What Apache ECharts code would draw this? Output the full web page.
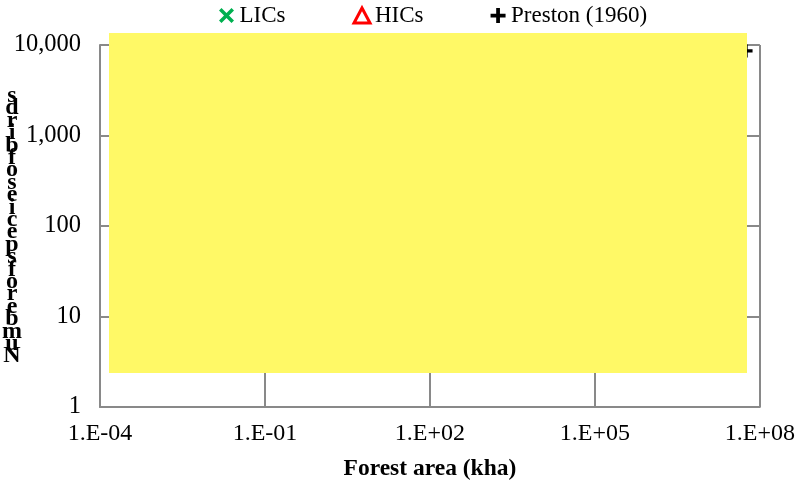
<!DOCTYPE html>
<html>
<head>
<meta charset="utf-8">
<script src="https://cdn.jsdelivr.net/npm/echarts@6/dist/echarts.min.js"></script>
<style>
  html, body { margin: 0; padding: 0; background: #ffffff; }
  #chart { width: 798px; height: 486px; }
</style>
</head>
<body>
<div id="chart"></div>
<script>
// Series names shown in the legend
const seriesNames = ['LICs', 'HICs', 'Preston (1960)'];

// Country groups (points sit beneath the note panel)
const licsArea = [];
const licsSpecies = [];
const hicsArea = [];
const hicsSpecies = [];

// Preston's global reference point: area in kha, number of bird species
const prestonArea = [5.6e7];
const prestonSpecies = [8600];

// Axis ranges
const xMin = 1e-4, xMax = 1e8;
const yMin = 1, yMax = 10000;

const axisTitleX = 'Forest area (kha)';
const axisTitleY = 'Number of species of birds';

const serif = '"Liberation Serif", "Times New Roman", serif';
const grey = '#898989';

const crossPath = 'path://M0,2 L2,0 L6,4 L10,0 L12,2 L8,6 L12,10 L10,12 L6,8 L2,12 L0,10 L4,6 Z';
const plusPath = 'path://M4.5,0 H7.5 V4.5 H12 V7.5 H7.5 V12 H4.5 V7.5 H0 V4.5 H4.5 Z';

function zip(xs, ys) { return xs.map((x, i) => [x, ys[i]]); }

const chart = echarts.init(document.getElementById('chart'), null, { renderer: 'canvas' });

// Stacked upright letters, read from bottom to top
const stackedTitle = axisTitleY.replace(/\s+/g, '').split('').reverse().join('\n');

chart.setOption({
  animation: false,
  backgroundColor: '#ffffff',
  textStyle: { fontFamily: serif },
  grid: { left: 100, right: 35, top: 45, bottom: 78, containLabel: false },
  legend: {
    left: 214,
    top: -1,
    itemWidth: 16,
    itemHeight: 15,
    itemGap: 67,
    textStyle: { fontFamily: serif, fontSize: 23, color: '#000000' },
    data: [
      { name: seriesNames[0], icon: crossPath, itemStyle: { color: '#00B050', opacity: 1 } },
      { name: seriesNames[1], icon: 'triangle', itemStyle: { color: 'rgba(0,0,0,0)', borderColor: '#FF0000', borderWidth: 3, opacity: 1 } },
      { name: seriesNames[2], icon: plusPath, itemStyle: { color: '#000000', opacity: 1 } }
    ]
  },
  xAxis: {
    type: 'log',
    logBase: 10,
    min: xMin,
    max: xMax,
    interval: 3,
    name: axisTitleX,
    nameLocation: 'middle',
    nameGap: 50,
    nameTextStyle: { fontFamily: serif, fontSize: 23.5, fontWeight: 'bold', color: '#000000' },
    axisLine: { show: true, lineStyle: { color: grey, width: 2 } },
    axisTick: { show: false },
    axisLabel: {
      fontFamily: serif, fontSize: 24, color: '#000000', margin: 15,
      formatter: function (v) {
        const e = Math.round(Math.log10(v));
        return '1.E' + (e < 0 ? '-' : '+') + String(Math.abs(e)).padStart(2, '0');
      }
    },
    splitLine: { show: true, lineStyle: { color: grey, width: 2 } }
  },
  yAxis: {
    type: 'log',
    logBase: 10,
    min: yMin,
    max: yMax,
    interval: 1,
    axisLine: { show: true, lineStyle: { color: grey, width: 2 } },
    axisTick: { show: false },
    axisLabel: {
      fontFamily: serif, fontSize: 24.5, color: '#000000', margin: 19,
      formatter: function (v) { return Math.round(v).toLocaleString('en-US'); }
    },
    splitLine: { show: true, lineStyle: { color: grey, width: 2 } }
  },
  series: [
    {
      name: seriesNames[0], type: 'scatter', data: zip(licsArea, licsSpecies),
      symbol: crossPath, symbolSize: 12, itemStyle: { color: '#00B050', opacity: 1 }, z: 3
    },
    {
      name: seriesNames[1], type: 'scatter', data: zip(hicsArea, hicsSpecies),
      symbol: 'triangle', symbolSize: 12,
      itemStyle: { color: 'rgba(0,0,0,0)', borderColor: '#FF0000', borderWidth: 3, opacity: 1 }, z: 3
    },
    {
      name: seriesNames[2], type: 'scatter', data: zip(prestonArea, prestonSpecies),
      symbol: plusPath, symbolSize: 13, itemStyle: { color: '#000000', opacity: 1 }, z: 3
    }
  ],
  graphic: [
    {
      // note panel laid over the plot area
      type: 'rect',
      z: 100,
      shape: { x: 109, y: 33, width: 638, height: 340 },
      style: { fill: '#FFF966' }
    },
    {
      type: 'text',
      z: 100,
      x: 12,
      y: 226,
      style: {
        text: stackedTitle,
        fontFamily: serif,
        fontSize: 24,
        fontWeight: 'bold',
        lineHeight: 12.4,
        fill: '#000000',
        align: 'center',
        verticalAlign: 'middle'
      }
    }
  ]
});
</script>
</body>
</html>
